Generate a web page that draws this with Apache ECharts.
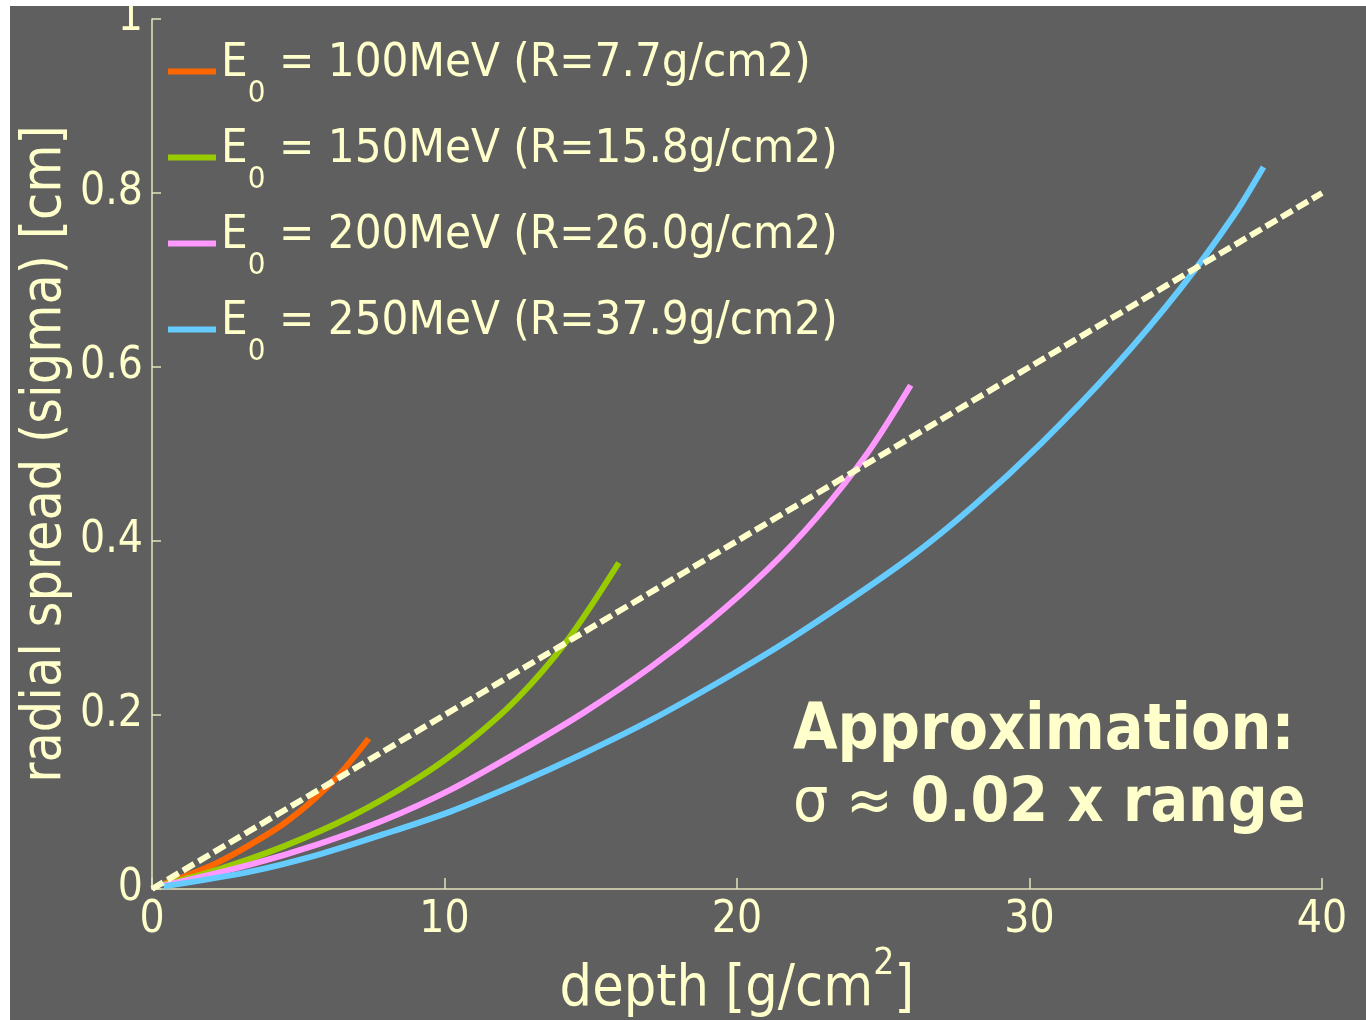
<!DOCTYPE html>
<html>
<head>
<meta charset="utf-8">
<script src="https://cdn.jsdelivr.net/npm/echarts@6/dist/echarts.min.js"></script>
<style>
body { margin: 0; background: #fff; }
#wrap { position: relative; width: 1366px; height: 1020px; background: #fff; }
#chart { position: absolute; left: 10px; top: 6px; width: 1356px; height: 1014px; }
</style>
</head>
<body>
<div id="wrap"><div id="chart"></div></div>
<script>
var energies = ['100', '150', '200', '250'];
var ranges = ['7.7', '15.8', '26.0', '37.9'];

var depth100 = [0.4, 1.08, 2.22, 3.36, 4.50, 5.64, 6.44, 7.41];
var sigma100 = [0.006, 0.014, 0.030, 0.051, 0.075, 0.106, 0.133, 0.173];

var depth150 = [0.4, 2.22, 4.50, 6.78, 9.07, 10.78, 12.49, 14.2, 15.96];
var sigma150 = [0.005, 0.022, 0.049, 0.083, 0.127, 0.168, 0.219, 0.286, 0.375];

var depth200 = [0.4, 3.36, 5.64, 7.92, 10.2, 12.49, 14.77, 17.05, 19.0, 21.04, 22.75, 24.46, 25.94];
var sigma200 = [0.004, 0.028, 0.051, 0.079, 0.114, 0.157, 0.203, 0.255, 0.306, 0.367, 0.428, 0.501, 0.579];

var depth250 = [0.4, 3.36, 5.64, 7.92, 10.2, 12.49, 14.77, 17.05, 19.9, 22.18, 25.83, 28.11, 30.39, 32.9, 35.18, 37.0, 38.0];
var sigma250 = [0.003, 0.020, 0.039, 0.063, 0.089, 0.121, 0.156, 0.194, 0.248, 0.295, 0.379, 0.441, 0.512, 0.600, 0.691, 0.775, 0.830];

// sigma ~ 0.02 x range
var approxDepth = [0, 40];
var approxSigma = [0, 0.8];

var cream = '#ffffcc';
var axisCol = '#e4e4bc';
var font = "'DejaVu Sans Condensed','DejaVu Sans',sans-serif";
var colors = ['#ff6600', '#99cc00', '#ff99ff', '#66ccff'];

function zip(_x, _y) {
	var out = [];
	for (var i = 0; i < _x.length; i++) {
		out.push([_x[i], _y[i]]);
	}
	return out;
}

var curves = [
	zip(depth100, sigma100),
	zip(depth150, sigma150),
	zip(depth200, sigma200),
	zip(depth250, sigma250)
];

var series = [];
for (var i = 0; i < curves.length; i++) {
	series.push({
		type: 'line',
		name: 'E' + energies[i],
		data: curves[i],
		smooth: 0.3,
		showSymbol: false,
		lineStyle: { color: colors[i], width: 6 },
		itemStyle: { color: colors[i] },
		z: 2
	});
}
series.push({
	type: 'line',
	name: 'approx',
	data: zip(approxDepth, approxSigma),
	showSymbol: false,
	lineStyle: { color: cream, width: 6, type: [13, 5] },
	itemStyle: { color: cream },
	z: 3
});

var option = {
	animation: false,
	backgroundColor: '#5f5f5f',
	grid: { left: 142, right: 44, top: 13, bottom: 131, containLabel: false, outerBoundsMode: 'none' },
	legend: {
		data: series.slice(0, 4).map(function (s) { return s.name; }),
		orient: 'vertical',
		left: 158,
		top: 28,
		padding: 0,
		itemGap: 11,
		itemWidth: 48,
		itemHeight: 6,
		icon: 'rect',
		selectedMode: false,
		formatter: function (name) {
			var idx = energies.indexOf(name.substring(1));
			return '{m|E}{s|0}{m| = ' + energies[idx] + 'MeV (R=' + ranges[idx] + 'g/cm2)}';
		},
		textStyle: {
			color: cream,
			fontFamily: font,
			rich: {
				m: { color: cream, fontFamily: font, fontSize: 47, lineHeight: 60, padding: [0, 0, 15, 0] },
				s: { color: cream, fontFamily: font, fontSize: 31, lineHeight: 60, padding: [44, 0, 0, 0] }
			}
		}
	},
	xAxis: {
		type: 'value',
		min: 0,
		max: 40,
		interval: 10,
		name: '{d|depth [g/cm}{u|2}{d|]}',
		nameLocation: 'middle',
		nameGap: 69,
		nameMoveOverlap: false,
		nameTextStyle: {
			color: cream,
			rich: {
				d: { color: cream, fontFamily: font, fontSize: 57, lineHeight: 64 },
				u: { color: cream, fontFamily: font, fontSize: 37, lineHeight: 64, padding: [0, 0, 52, 0] }
			}
		},
		axisLine: { show: true, lineStyle: { color: axisCol, width: 1.5 } },
		axisTick: { show: true, inside: true, length: 11, lineStyle: { color: axisCol, width: 1.5 } },
		axisLabel: { color: cream, fontFamily: font, fontSize: 44, margin: 10 },
		splitLine: { show: false }
	},
	yAxis: {
		type: 'value',
		min: 0,
		max: 1,
		interval: 0.2,
		name: 'radial spread (sigma) [cm]',
		nameLocation: 'middle',
		nameGap: 73,
		nameMoveOverlap: false,
		nameTextStyle: { color: cream, fontFamily: font, fontSize: 55, lineHeight: 66 },
		axisLine: { show: true, lineStyle: { color: axisCol, width: 1.5 } },
		axisTick: { show: true, inside: true, length: 9, lineStyle: { color: axisCol, width: 1.5 } },
		axisLabel: { color: cream, fontFamily: font, fontSize: 44, margin: 9 },
		splitLine: { show: false }
	},
	graphic: [
		{
			type: 'text',
			left: 783,
			top: 694,
			style: {
				text: 'Approximation:',
				fill: cream,
				font: 'bold 64px ' + font
			}
		},
		{
			type: 'text',
			left: 783,
			top: 768,
			style: {
				text: '{n|σ ≈ }{b|0.02 x range}',
				fill: cream,
				rich: {
					n: { fill: cream, fontFamily: font, fontSize: 62 },
					b: { fill: cream, fontFamily: font, fontSize: 62, fontWeight: 'bold' }
				}
			}
		}
	],
	series: series
};

var lineChart = echarts.init(document.getElementById('chart'));
lineChart.setOption(option);
</script>
</body>
</html>
